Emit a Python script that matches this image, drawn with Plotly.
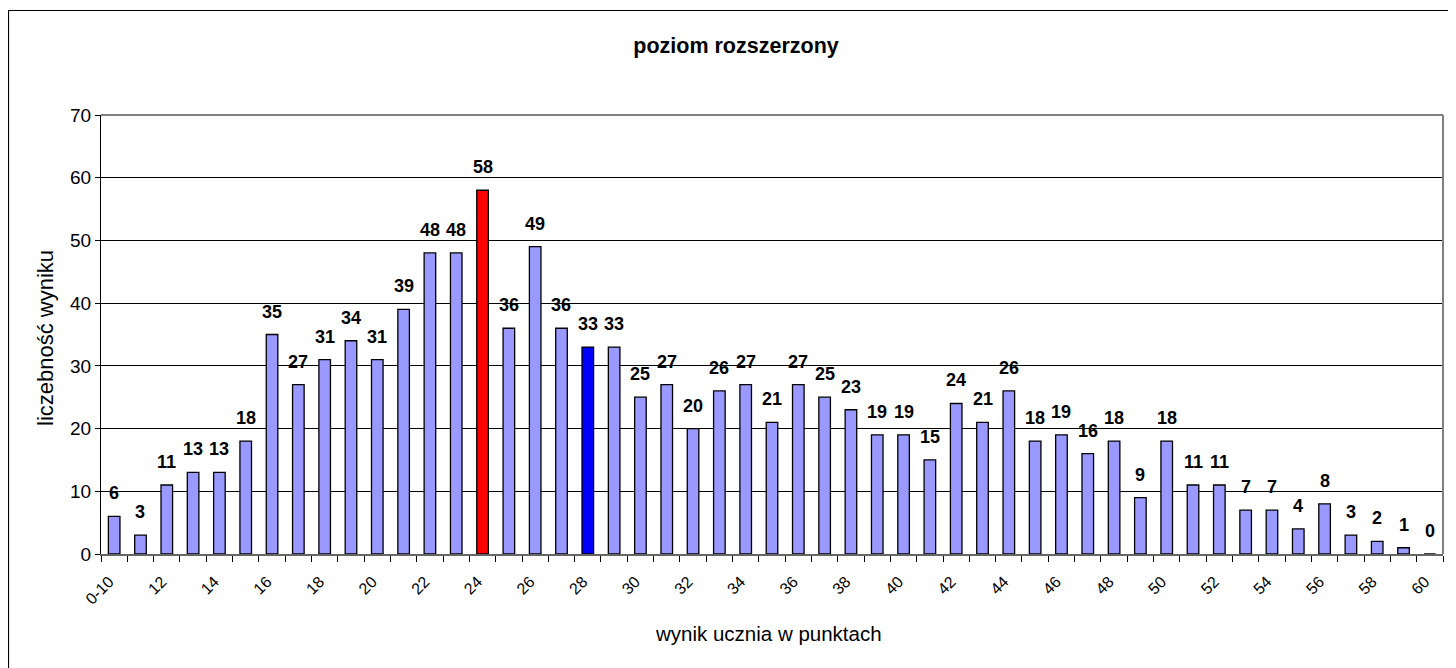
import plotly.graph_objects as go

categories = ["0-10"] + [str(i) for i in range(11, 61)]
values = [6, 3, 11, 13, 13, 18, 35, 27, 31, 34, 31, 39, 48, 48, 58, 36, 49, 36, 33, 33,
          25, 27, 20, 26, 27, 21, 27, 25, 23, 19, 19, 15, 24, 21, 26, 18, 19, 16, 18, 9,
          18, 11, 11, 7, 7, 4, 8, 3, 2, 1, 0]
highlight_red = "24"
highlight_blue = "28"
y_ticks = [0, 10, 20, 30, 40, 50, 60, 70]

title_text = "poziom rozszerzony"
x_title = "wynik ucznia w punktach"
y_title = "liczebność wyniku"

FONT = "Liberation Sans, Arial, sans-serif"

xs = list(range(len(categories)))
colors = []
for c in categories:
    if c == highlight_red:
        colors.append("#FF0000")
    elif c == highlight_blue:
        colors.append("#0000FF")
    else:
        colors.append("#9999FF")

fig = go.Figure()
fig.add_trace(go.Bar(
    x=xs, y=values,
    marker=dict(color=colors, line=dict(color="#000000", width=1.3)),
    hoverinfo="x+y",
))

annotations = []
for x, v in zip(xs, values):
    annotations.append(dict(
        x=x, y=v, xref="x", yref="y", text=str(v), showarrow=False,
        yanchor="bottom", yshift=11,
        font=dict(family=FONT, size=18, color="#000000", weight="bold"),
    ))

# page offset (body margin) = 8px
OFF = 8
W, H = 1456 - OFF, 668 - OFF
L, R, T, B = 101 - OFF, 1456 - 1443, 115 - OFF, H - (554 - OFF)
pw = W - L - R
ph = H - T - B

def px_x(px):
    return (px - OFF - L) / pw

def px_y(py):
    return ((554 - OFF) - (py - OFF)) / ph

# Axis titles
annotations.append(dict(
    x=px_x(768), y=px_y(633), xref="paper", yref="paper", text=x_title, showarrow=False,
    xanchor="center", yanchor="middle",
    font=dict(family=FONT, size=20.5, color="#000000"),
))
annotations.append(dict(
    x=px_x(45), y=px_y(338), xref="paper", yref="paper", text=y_title, showarrow=False,
    xanchor="center", yanchor="middle", textangle=-90,
    font=dict(family=FONT, size=22, color="#000000"),
))

shapes = [
    # outer chart border
    dict(type="rect", xref="paper", yref="paper",
         x0=px_x(8.5), x1=px_x(1470),
         y0=px_y(690), y1=px_y(10.5),
         line=dict(color="#000000", width=1.2), layer="below"),
    # plot area border (top & right in gray)
    dict(type="line", xref="paper", yref="paper", x0=0, x1=1, y0=1, y1=1,
         line=dict(color="#808080", width=2)),
    dict(type="line", xref="paper", yref="paper", x0=1, x1=1, y0=0, y1=1,
         line=dict(color="#808080", width=2)),
]

fig.update_layout(
    width=W, height=H,
    margin=dict(l=L, r=R, t=T, b=B, autoexpand=False),
    paper_bgcolor="#FFFFFF", plot_bgcolor="#FFFFFF",
    bargap=0.56,
    showlegend=False,
    title=dict(text=title_text, x=(736 - OFF) / W, xanchor="center", xref="container",
               y=1 - (45 - OFF) / H, yanchor="middle", yref="container",
               font=dict(family=FONT, size=21.5, color="#000000", weight="bold")),
    annotations=annotations,
    shapes=shapes,
    font=dict(family=FONT, color="#000000"),
)

fig.update_xaxes(
    range=[-0.5, len(categories) - 0.5],
    tickmode="array", tickvals=xs[::2], ticktext=categories[::2],
    tickangle=-45, ticks="", showgrid=False, zeroline=False,
    tickfont=dict(family=FONT, size=16, color="#000000"),
    ticklabelstandoff=10, ticklabelshift=-5,
    showline=True, linecolor="#666666", linewidth=2,
    minor=dict(tick0=-0.5, dtick=1, ticks="outside", ticklen=6,
               tickcolor="#000000", tickwidth=1, showgrid=False),
    fixedrange=True,
)
fig.update_yaxes(
    range=[0, 70], tickmode="array", tickvals=y_ticks,
    ticks="outside", ticklen=5, tickcolor="#000000",
    showgrid=True, gridcolor="#000000", gridwidth=1, zeroline=False,
    showline=True, linecolor="#000000", linewidth=1.3,
    tickfont=dict(family=FONT, size=19, color="#000000"),
    fixedrange=True,
)

fig.write_html("out.html")
